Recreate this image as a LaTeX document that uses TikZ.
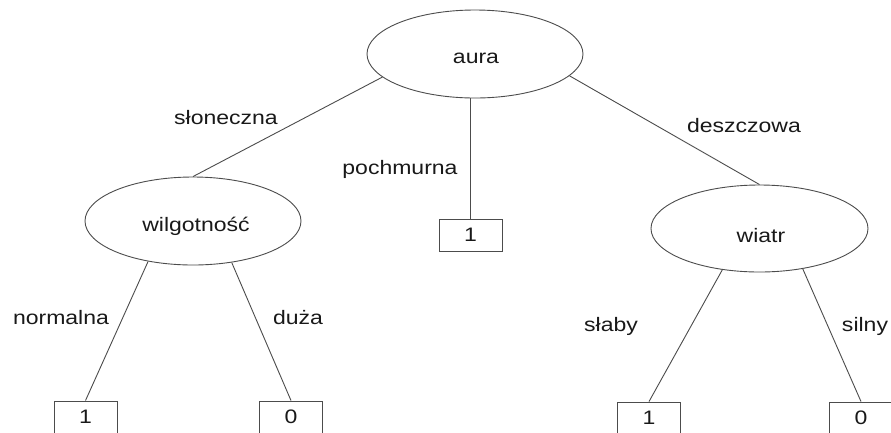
\documentclass[tikz,border=0pt]{standalone}
\usepackage{fontspec}
\setmainfont{Liberation Sans}[FakeStretch=1.18]
\usetikzlibrary{shapes.geometric}
\definecolor{edgecol}{gray}{0.3}
\definecolor{txtcol}{gray}{0.1}
\tikzset{
  lbl/.style={anchor=base, inner sep=0pt, text=txtcol, font=\fontsize{19.5}{22}\selectfont},
  attr/.style={ellipse, draw=edgecol, line width=0.9pt, inner sep=0pt, text=txtcol,
               font=\fontsize{19.5}{22}\selectfont},
  leaf/.style={rectangle, draw=edgecol, line width=0.9pt, minimum width=63pt, minimum height=32pt,
               inner sep=0pt, text=txtcol, font=\fontsize{19.5}{22}\selectfont},
  conn/.style={draw=edgecol, line width=0.9pt}
}
\begin{document}
\begin{tikzpicture}[x=1pt, y=-1pt]
\useasboundingbox (0,0) rectangle (891,432);
\fill[white] (0,0) rectangle (891,432);
% attribute nodes
\node[attr, minimum width=216pt, minimum height=88pt] (aura) at (475,54) {};
\node[attr, minimum width=216pt, minimum height=88pt] (wilg) at (193,221) {};
\node[attr, minimum width=217pt, minimum height=87pt] (wiatr) at (759.5,228.5) {};
\node[lbl] (tAura) at (476,63) {aura};
\node[lbl] (tWilg) at (196,231) {wilgotność};
\node[lbl] (tWiatr) at (761,242) {wiatr};
% leaves
\node[leaf] (p1) at (470.5,235) {1};
\node[leaf] (n1) at (85.5,417) {1};
\node[leaf] (d0) at (291,417) {0};
\node[leaf] (s1) at (649,418) {1};
\node[leaf] (s0) at (861,418) {0};
% connectors
\draw[conn] (aura.194) -- (wilg.north);
\draw[conn] (aura.-13) -- (wiatr.north);
\draw[conn] (p1.north) -- (p1.north |- aura.south);
\draw[conn] (wilg.222) -- (n1.north);
\draw[conn] (wilg.313) -- (d0.north);
\draw[conn] (wiatr.228) -- (s1.north);
\draw[conn] (wiatr.317) -- (s0.north);
% edge labels
\node[lbl] (lSlon) at (226,124) {słoneczna};
\node[lbl] (lPoch) at (400,174) {pochmurna};
\node[lbl] (lDesz) at (744,132) {deszczowa};
\node[lbl] (lNorm) at (61,324) {normalna};
\node[lbl] (lDuza) at (298,324) {duża};
\node[lbl] (lSlab) at (611,331) {słaby};
\node[lbl] (lSiln) at (865,331) {silny};
\end{tikzpicture}
\end{document}
